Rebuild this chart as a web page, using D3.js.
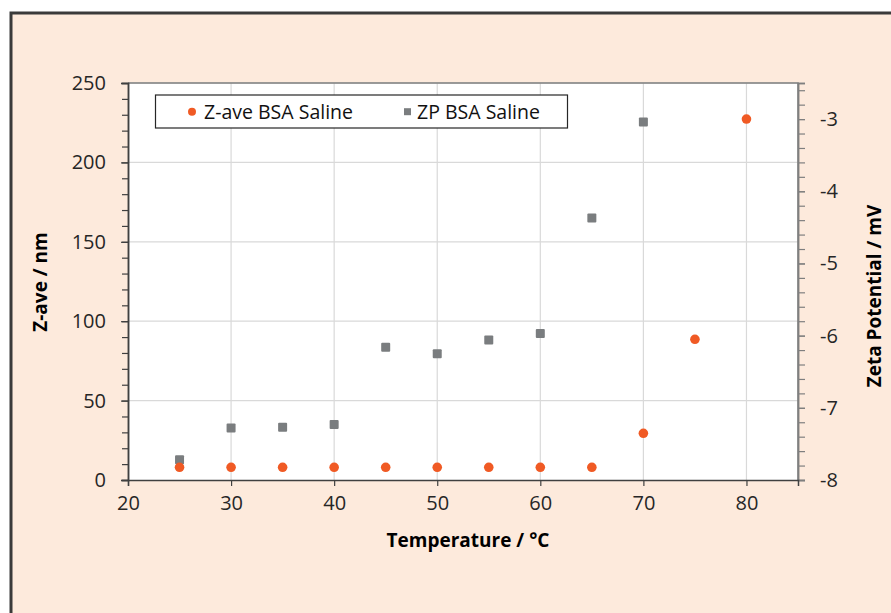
<!DOCTYPE html>
<html>
<head>
<meta charset="utf-8">
<script src="https://cdn.jsdelivr.net/npm/d3@7"></script>
<style>
  html, body { margin: 0; padding: 0; background: #ffffff; }
  svg { display: block; }
  text { font-family: "Open Sans", "Noto Sans", sans-serif; }
</style>
</head>
<body>
<svg id="chart" width="891" height="613"></svg>
<script>
// Temperature steps (°C)
const temperatures = [25, 30, 35, 40, 45, 50, 55, 60, 65, 70, 75, 80];
// Z-average particle size (nm), left axis
const zAve = [8, 8, 8, 8, 8, 8, 8, 8, 8, 29.4, 88.6, 227.3];
// Zeta potential (mV), right axis — measured up to 70 °C
const zpTemps = [25, 30, 35, 40, 45, 50, 55, 60, 65, 70];
const zetaPotential = [-7.72, -7.28, -7.27, -7.23, -6.16, -6.25, -6.06, -5.97, -4.37, -3.04];

const xTicks = [20, 30, 40, 50, 60, 70, 80];
const yLeftTicks = [0, 50, 100, 150, 200, 250];
const yRightTicks = [-8, -7, -6, -5, -4, -3];
const seriesNames = ["Z-ave BSA Saline", "ZP BSA Saline"];

const svg = d3.select("#chart");
const W = 891, H = 613;
const plot = { left: 128, right: 798, top: 83, bottom: 480 };
const fmt = d => String(d);

// Panel background with dark frame on the left and top
svg.append("rect").attr("x", 11).attr("y", 13).attr("width", W + 10).attr("height", H + 10)
  .attr("fill", "#fdeadc").attr("stroke", "#3a3a3a").attr("stroke-width", 3);

const x = d3.scaleLinear().domain([20, 85]).range([plot.left, plot.right]);
const yL = d3.scaleLinear().domain([0, 250]).range([plot.bottom, plot.top]);
const yR = d3.scaleLinear().domain([-8, -2.5]).range([plot.bottom, plot.top]);

// Plot area
svg.append("rect").attr("x", plot.left).attr("y", plot.top)
  .attr("width", plot.right - plot.left).attr("height", plot.bottom - plot.top)
  .attr("fill", "#ffffff");

// Gridlines
const grid = svg.append("g").attr("stroke", "#d9d9d9").attr("stroke-width", 1.2);
grid.selectAll("line.v").data(xTicks.filter(d => d > 20)).join("line")
  .attr("x1", d => x(d)).attr("x2", d => x(d))
  .attr("y1", plot.top).attr("y2", plot.bottom);
grid.selectAll("line.h").data(yLeftTicks.filter(d => d > 0)).join("line")
  .attr("x1", plot.left).attr("x2", plot.right)
  .attr("y1", d => yL(d)).attr("y2", d => yL(d));

// Plot frame (top and right)
svg.append("path")
  .attr("d", `M${plot.left},${plot.top}H${plot.right}V${plot.bottom}`)
  .attr("fill", "none").attr("stroke", "#7f7f7f").attr("stroke-width", 1.5);

function styleAxis(g, color) {
  g.select(".domain").attr("stroke", color).attr("stroke-width", 1.5);
  g.selectAll(".tick line").attr("stroke", color).attr("stroke-width", 1.2);
  g.selectAll(".tick text").attr("fill", "#262626")
    .style("font-size", "20px").style("font-family", "'Open Sans', sans-serif");
}

// Minor ticks on left and right axes
const leftMinor = d3.range(0, 251, 10);
const rightMinor = d3.range(-8, -2.49, 0.2);

svg.append("g").attr("transform", `translate(${plot.left},0)`)
  .call(d3.axisLeft(yL).tickValues(leftMinor).tickSize(6).tickFormat(""))
  .call(g => styleAxis(g, "#404040"));
svg.append("g").attr("transform", `translate(${plot.left},0)`)
  .call(d3.axisLeft(yL).tickValues(yLeftTicks).tickSize(7).tickPadding(15).tickFormat(fmt))
  .call(g => styleAxis(g, "#404040"));

svg.append("g").attr("transform", `translate(${plot.right},0)`)
  .call(d3.axisRight(yR).tickValues(rightMinor).tickSize(7).tickFormat(""))
  .call(g => styleAxis(g, "#7f7f7f"));
svg.append("g").attr("transform", `translate(${plot.right},0)`)
  .call(d3.axisRight(yR).tickValues(yRightTicks).tickSize(7).tickPadding(15).tickFormat(fmt))
  .call(g => styleAxis(g, "#7f7f7f"));

svg.append("g").attr("transform", `translate(0,${plot.bottom})`)
  .call(d3.axisBottom(x).tickValues(xTicks).tickSize(6).tickPadding(10).tickFormat(fmt))
  .call(g => styleAxis(g, "#404040"));

// Axis titles
svg.append("text").attr("x", 468).attr("y", 547)
  .attr("text-anchor", "middle").attr("font-size", 19).attr("font-weight", 700).attr("fill", "#000")
  .text("Temperature / °C");
svg.append("text").attr("transform", `translate(47,282) rotate(-90)`)
  .attr("text-anchor", "middle").attr("font-size", 19).attr("font-weight", 700).attr("fill", "#000")
  .text("Z-ave / nm");
svg.append("text").attr("transform", `translate(881,296) rotate(-90)`)
  .attr("text-anchor", "middle").attr("font-size", 19).attr("font-weight", 700).attr("fill", "#000")
  .text("Zeta Potential / mV");

// Markers
const orange = "#f05a24", grey = "#7a7d7f";
svg.append("g").selectAll("rect").data(zpTemps.map((t, i) => [t, zetaPotential[i]])).join("rect")
  .attr("x", d => x(d[0]) - 4.5).attr("y", d => yR(d[1]) - 4.5)
  .attr("width", 9).attr("height", 9).attr("rx", 1).attr("fill", grey);
svg.append("g").selectAll("circle").data(temperatures.map((t, i) => [t, zAve[i]])).join("circle")
  .attr("cx", d => x(d[0])).attr("cy", d => yL(d[1])).attr("r", 4.8).attr("fill", orange);

// Legend
const lg = svg.append("g");
lg.append("rect").attr("x", 155.5).attr("y", 95).attr("width", 412).attr("height", 33)
  .attr("fill", "#ffffff").attr("stroke", "#262626").attr("stroke-width", 1.2);
lg.append("circle").attr("cx", 192).attr("cy", 111.7).attr("r", 4).attr("fill", orange);
lg.append("text").attr("x", 204).attr("y", 118.5).attr("font-size", 19.5).attr("fill", "#111")
  .text(seriesNames[0]);
lg.append("rect").attr("x", 404).attr("y", 108.2).attr("width", 7).attr("height", 7).attr("fill", grey);
lg.append("text").attr("x", 417).attr("y", 118.5).attr("font-size", 19.5).attr("fill", "#111")
  .text(seriesNames[1]);
</script>
</body>
</html>
